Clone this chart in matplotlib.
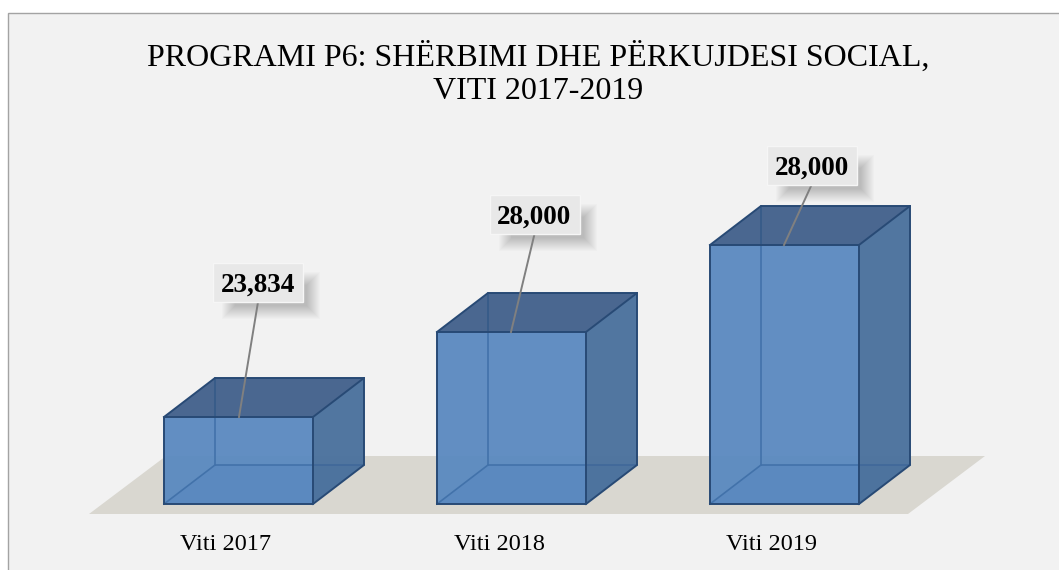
import matplotlib
matplotlib.use("Agg")
import matplotlib.pyplot as plt
from matplotlib.patches import Rectangle, Polygon

#------------------------------------------------ Data -------------------------------------------
Categories = ["Viti 2017", "Viti 2018", "Viti 2019"]
ValueLabels = ["23,834", "28,000", "28,000"]
# Drawn bar heights: the picture does not scale them by the printed value.
BarHeights = [87, 172, 259]

Title = "PROGRAMI P6: SHËRBIMI DHE PËRKUJDESI SOCIAL,\nVITI 2017-2019"

#------------------------------------------------ Layout (pixels) -------------------------------------------------------
W, H = 1059, 570
FirstCentre, Spacing = 238.5, 273
BaseY = 504
BarWidth = 149
DepthX, DepthY = 51, 39
LabelBoxW, LabelBoxH = 90, 39
LabelBoxCentreX = [258, 534.5, 811.5]    # pixels
LabelBoxBottomAbove = [202, 270, 319]    # pixels above base
LeaderFootX = [239, 511, 784]

BG = "#f2f2f2"
FRONT = "#5a89c0"
BOTTOM = "#6f8fb0"
TOP = "#4a6790"
SIDE = "#4c729e"
EDGE = "#284a75"
INNER = "#4272aa"

plt.rcParams['font.family'] = ['Liberation Serif', 'DejaVu Serif']

fig = plt.figure(figsize = (W / 100, H / 100), dpi = 100, facecolor = "white")

# x axis in categories, y axis in drawn height over the floor
ax = fig.add_axes([0, 0, 1, 1])
ax.set_xlim(-FirstCentre / Spacing, (W - FirstCentre) / Spacing)
ax.set_ylim(BaseY - H, BaseY)
ax.axis("off")
px = 1 / Spacing   # one pixel in x data units

# Panel & border (runs off the picture on the right and at the bottom)
ax.add_patch(Rectangle((-FirstCentre * px + 7.5 * px, BaseY - H - 5), (W + 5) * px, H - 7.5, facecolor = BG,
                       edgecolor = "#a3a3a3", linewidth = 1, zorder = 0))

# Floor
ax.add_patch(Polygon([((89 - FirstCentre) * px, BaseY - 514), ((908 - FirstCentre) * px, BaseY - 514),
                      ((985 - FirstCentre) * px, BaseY - 456), ((166 - FirstCentre) * px, BaseY - 456)],
                     closed = True, facecolor = "#d9d7d0", edgecolor = "none", zorder = 1))

for i, h in enumerate(BarHeights):
    x0 = i - BarWidth * px / 2
    x1 = i + BarWidth * px / 2
    bx0 = x0 + DepthX * px
    bx1 = x1 + DepthX * px

    # Bottom, top and right faces, then the see-through front
    ax.add_patch(Polygon([(x0, 0), (x1, 0), (bx1, DepthY), (bx0, DepthY)], facecolor = BOTTOM,
                         edgecolor = "none", zorder = 1.5))
    ax.add_patch(Polygon([(x0, h), (x1, h), (bx1, h + DepthY), (bx0, h + DepthY)], facecolor = TOP,
                         edgecolor = "none", zorder = 2))
    ax.add_patch(Polygon([(x1, 0), (bx1, DepthY), (bx1, h + DepthY), (x1, h)], facecolor = SIDE,
                         edgecolor = "none", alpha = 0.97, zorder = 2))
    ax.add_patch(Rectangle((x0, 0), x1 - x0, h, facecolor = FRONT, edgecolor = "none", alpha = 0.95, zorder = 3))

    # Hidden edges seen through the front
    ax.plot([bx0, bx0], [DepthY, h], color = INNER, lw = 1.2, zorder = 4)
    ax.plot([x0, bx0, x1], [0, DepthY, DepthY], color = INNER, lw = 1.2, zorder = 4)
    ax.plot([x1, bx1], [DepthY, DepthY], color = "#40689a", lw = 1.2, zorder = 4)
    ax.plot([bx0, bx0], [h, h + DepthY], color = "#355a88", lw = 1.2, zorder = 4)

    # Visible edges
    ax.plot([x0, x1, x1, x0, x0], [0, 0, h, h, 0], color = EDGE, lw = 1.4, zorder = 5)
    ax.plot([x0, bx0, bx1, x1], [h, h + DepthY, h + DepthY, h], color = EDGE, lw = 1.4, zorder = 5)
    ax.plot([bx1, bx1, x1], [h + DepthY, DepthY, 0], color = EDGE, lw = 1.4, zorder = 5)

    # Label box with soft shadow and leader line
    cx = (LabelBoxCentreX[i] - FirstCentre) * px
    by = LabelBoxBottomAbove[i]
    for grow in range(4, -10, -1):
        ax.add_patch(Rectangle((cx + (13 - grow) * px - LabelBoxW * px / 2, by - 13 - grow),
                               (LabelBoxW + 2 * grow) * px, LabelBoxH + 2 * grow, facecolor = "#000000",
                               edgecolor = "none", alpha = 0.016, zorder = 6))
    ax.add_patch(Rectangle((cx - LabelBoxW * px / 2, by), LabelBoxW * px, LabelBoxH, facecolor = "#e8e8e8",
                           edgecolor = "#f6f6f6", linewidth = 1, zorder = 7))
    ax.plot([cx, (LeaderFootX[i] - FirstCentre) * px], [by, h], color = "#808080", lw = 1.4, zorder = 6.5)
    ax.text(cx, by + LabelBoxH / 2 - 3, ValueLabels[i], ha = "center", va = "center", fontsize = 19.5,
            fontweight = "bold", color = "black", zorder = 8)

    # Category label
    ax.text(i - 12.5 * px, -40, Categories[i], ha = "center", va = "center", fontsize = 17.5, color = "black", zorder = 8)

# Title
ax.text((538 - FirstCentre) * px, BaseY - 74, Title, ha = "center", va = "center", fontsize = 23,
        color = "black", linespacing = 1.18, zorder = 8)

fig.savefig("out.png", dpi = 100)
